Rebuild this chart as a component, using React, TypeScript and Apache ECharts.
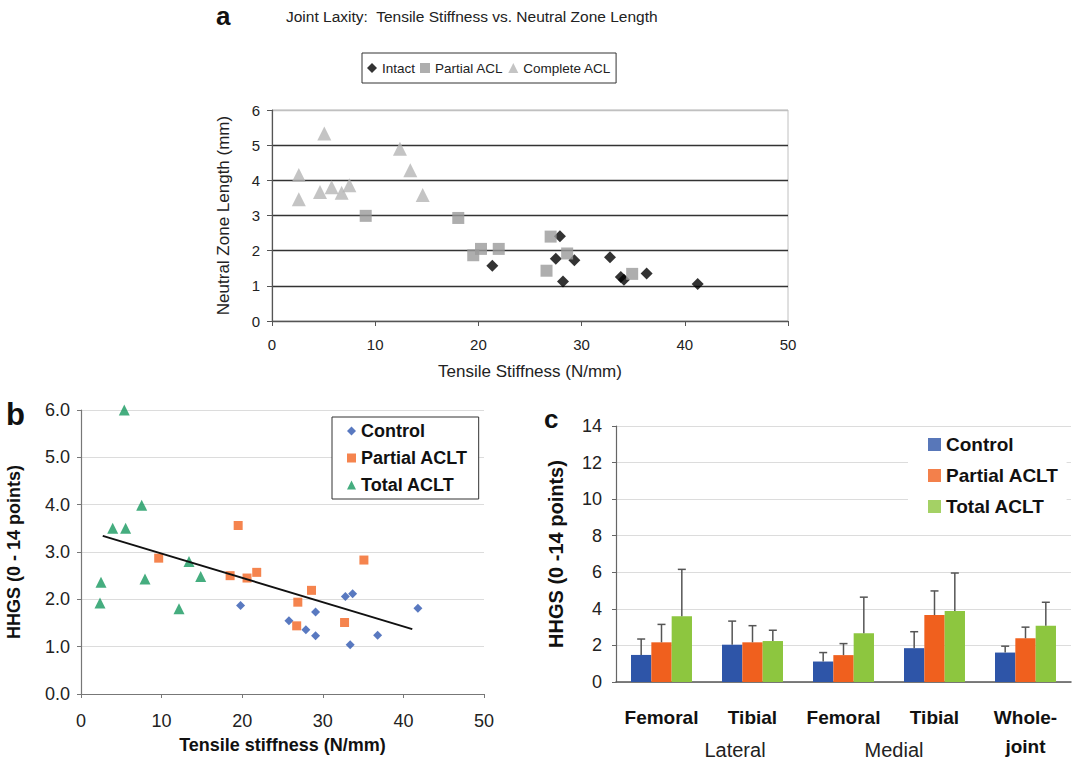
import React, { useEffect, useRef } from "react";
import * as echarts from "echarts";

const FONT = "'Liberation Sans', Arial, Helvetica, sans-serif";

// ---------- Panel a data ----------
const intactX = [21.35, 27.9, 27.5, 29.3, 32.75, 28.2, 33.8, 34.1, 36.3, 41.25];
const intactY = [1.57, 2.41, 1.77, 1.73, 1.81, 1.12, 1.25, 1.17, 1.35, 1.05];
const partialAclX = [9.08, 18.05, 19.5, 20.25, 21.97, 27.0, 28.6, 26.6, 34.9];
const partialAclY = [2.99, 2.93, 1.87, 2.05, 2.05, 2.4, 1.92, 1.43, 1.34];
const completeAclX = [2.6, 2.6, 5.07, 4.65, 5.78, 6.75, 7.5, 12.4, 13.4, 14.6];
const completeAclY = [4.15, 3.46, 5.33, 3.67, 3.8, 3.65, 3.86, 4.9, 4.29, 3.58];

// ---------- Panel b data ----------
const controlX = [19.8, 25.8, 29.1, 27.9, 29.1, 32.8, 33.7, 33.4, 36.8, 41.8];
const controlY = [1.87, 1.55, 1.73, 1.36, 1.23, 2.06, 2.12, 1.04, 1.24, 1.81];
const partialAcltX = [9.64, 19.5, 18.5, 20.6, 21.8, 28.6, 26.9, 26.76, 32.7, 35.1];
const partialAcltY = [2.87, 3.56, 2.5, 2.45, 2.57, 2.19, 1.94, 1.44, 1.51, 2.83];
const totalAcltX = [5.37, 3.93, 5.54, 7.53, 2.48, 2.36, 7.94, 13.4, 14.85, 12.16];
const totalAcltY = [6.0, 3.5, 3.5, 3.99, 2.36, 1.92, 2.43, 2.8, 2.48, 1.8];
const trendX = [2.7, 41.1];
const trendY = [3.34, 1.37];

// ---------- Panel c data ----------
const cCategories = ["Femoral", "Tibial", "Femoral", "Tibial", "Whole-\njoint"];
const cControl = [1.48, 2.04, 1.12, 1.85, 1.61];
const cControlErr = [0.87, 1.29, 0.49, 0.9, 0.35];
const cPartial = [2.17, 2.17, 1.47, 3.66, 2.39];
const cPartialErr = [0.98, 0.91, 0.63, 1.32, 0.61];
const cTotal = [3.59, 2.24, 2.66, 3.88, 3.08];
const cTotalErr = [2.57, 0.59, 1.98, 2.08, 1.28];

const aTicks = ["0", "1", "2", "3", "4", "5", "6"];

const zip = (xs: number[], ys: number[]) => xs.map((x, i) => [x, ys[i]]);

const COL_B = { control: "#2f57b0", partial: "#f26522", total: "#17995f" };
const COL_C = { control: "#2e55a8", partial: "#f0601e", total: "#8dc63f" };

const CAT_GAP = 0.33;

function errSeries(name: string, idx: number, means: number[], errs: number[]) {
  return {
    type: "custom",
    name: name + " err",
    xAxisIndex: 2,
    yAxisIndex: 2,
    z: 5,
    silent: true,
    encode: { x: 0, y: 1 },
    data: means.map((m, i) => [i, m, errs[i]]),
    renderItem: (params: any, api: any) => {
      const i = api.value(0);
      const m = api.value(1);
      const e = api.value(2);
      const base = api.coord([i, m]);
      const tip = api.coord([i, m + e]);
      const band = api.size([1, 0])[0];
      const bw = (band * (1 - CAT_GAP)) / 3;
      const x = base[0] + (idx - 1) * bw;
      const st = { stroke: "#555", lineWidth: 1.5 };
      return {
        type: "group",
        children: [
          { type: "line", shape: { x1: x, y1: base[1], x2: x, y2: tip[1] }, style: st },
          { type: "line", shape: { x1: x - 4, y1: tip[1], x2: x + 4, y2: tip[1] }, style: st },
        ],
      };
    },
  };
}

const option: any = {
  animation: false,
  backgroundColor: "#ffffff",
  textStyle: { fontFamily: FONT },
  title: [
    {
      text: "Joint Laxity:  Tensile Stiffness vs. Neutral Zone Length",
      left: 286,
      top: 8,
      padding: 0,
      textStyle: { fontSize: 15.5, fontWeight: "normal", color: "#222", fontFamily: FONT },
    },
  ],
  graphic: [
    { type: "text", x: 216, y: 16, style: { text: "a", fill: "#111", font: `bold 26px ${FONT}`, verticalAlign: "middle" } },
    { type: "text", x: 6, y: 414, style: { text: "b", fill: "#111", font: `bold 31px ${FONT}`, verticalAlign: "middle" } },
    { type: "text", x: 544, y: 419, style: { text: "c", fill: "#111", font: `bold 26px ${FONT}`, verticalAlign: "middle" } },
    { type: "text", x: 735, y: 750, style: { text: "Lateral", fill: "#222", font: `20px ${FONT}`, align: "center", verticalAlign: "middle" } },
    { type: "text", x: 894, y: 750, style: { text: "Medial", fill: "#222", font: `20px ${FONT}`, align: "center", verticalAlign: "middle" } },
  ],
  legend: [
    {
      left: 362,
      top: 53,
      orient: "horizontal",
      padding: [8, 5],
      itemGap: 5,
      itemWidth: 10,
      itemHeight: 10,
      borderColor: "#333",
      borderWidth: 1,
      selectedMode: false,
      textStyle: { fontSize: 13.5, color: "#222", fontFamily: FONT },
      data: [
        { name: "Intact", icon: "diamond", itemStyle: { color: "#000" } },
        { name: "Partial ACL", icon: "rect", itemStyle: { color: "#9a9a9a" } },
        { name: "Complete ACL", icon: "triangle", itemStyle: { color: "#b5b5b5" } },
      ],
    },
    {
      left: 332,
      top: 417,
      orient: "vertical",
      padding: [5, 11, 5, 15],
      itemGap: 9,
      itemWidth: 9,
      itemHeight: 9,
      borderColor: "#333",
      borderWidth: 1,
      backgroundColor: "#fff",
      selectedMode: false,
      textStyle: { fontSize: 18, fontWeight: "bold", color: "#111", fontFamily: FONT },
      data: [
        { name: "Control", icon: "diamond", itemStyle: { color: COL_B.control } },
        { name: "Partial ACLT", icon: "rect", itemStyle: { color: COL_B.partial } },
        { name: "Total ACLT", icon: "triangle", itemStyle: { color: COL_B.total } },
      ],
    },
    {
      left: 908,
      top: 432,
      orient: "vertical",
      padding: [3, 8, 8, 20],
      itemGap: 12,
      itemWidth: 13,
      itemHeight: 13,
      backgroundColor: "#fff",
      selectedMode: false,
      textStyle: { fontSize: 19, fontWeight: "bold", color: "#111", fontFamily: FONT },
      data: [
        { name: "Control", icon: "rect", itemStyle: { color: COL_C.control } },
        { name: "Partial ACLT", icon: "rect", itemStyle: { color: COL_C.partial } },
        { name: "Total ACLT", icon: "rect", itemStyle: { color: COL_C.total } },
      ],
    },
  ],
  grid: [
    { left: 272, top: 110, width: 516, height: 211, show: true, borderColor: "#c0c0c0", borderWidth: 1, backgroundColor: "transparent" },
    { left: 81, top: 410, width: 403, height: 284 },
    { left: 616, top: 426, width: 455, height: 257 },
  ],
  xAxis: [
    {
      gridIndex: 0,
      type: "value",
      min: 0,
      max: 50,
      interval: 10,
      name: "Tensile Stiffness (N/mm)",
      nameLocation: "middle",
      nameGap: 42,
      nameTextStyle: { fontSize: 17, color: "#222" },
      axisLine: { show: true, lineStyle: { color: "#555", width: 1.2 } },
      axisTick: { show: true, length: 5, lineStyle: { color: "#555" } },
      axisLabel: { fontSize: 15, color: "#222", margin: 16 },
      splitLine: { show: false },
    },
    {
      gridIndex: 1,
      type: "value",
      min: 0,
      max: 50,
      interval: 10,
      name: "Tensile stiffness (N/mm)",
      nameLocation: "middle",
      nameGap: 42,
      nameTextStyle: { fontSize: 18, fontWeight: "bold", color: "#111" },
      axisLine: { show: true, lineStyle: { color: "#777", width: 1.2 } },
      axisTick: { show: true, length: 4, lineStyle: { color: "#777" } },
      axisLabel: { fontSize: 18, color: "#222", margin: 18 },
      splitLine: { show: false },
    },
    {
      gridIndex: 2,
      type: "category",
      data: cCategories,
      axisLine: { show: true, lineStyle: { color: "#555", width: 1.5 } },
      axisTick: { show: false },
      axisLabel: { fontSize: 19, fontWeight: "bold", color: "#111", margin: 21, lineHeight: 29, interval: 0 },
      splitLine: { show: false },
    },
  ],
  yAxis: [
    {
      gridIndex: 0,
      type: "value",
      min: 0,
      max: 6,
      interval: 1,
      name: "Neutral Zone Length (mm)",
      nameLocation: "middle",
      nameGap: 40,
      nameTextStyle: { fontSize: 17, color: "#222" },
      axisLine: { show: true, lineStyle: { color: "#555", width: 1.2 } },
      axisTick: { show: true, length: 5, lineStyle: { color: "#555" } },
      axisLabel: { fontSize: 15, color: "#222", margin: 12, formatter: (v: number) => aTicks[Math.round(v)] },
      splitLine: { show: true, lineStyle: { color: ["#555", "#333", "#333", "#333", "#333", "#333", "#c0c0c0"], width: 1.3 } },
    },
    {
      gridIndex: 1,
      type: "value",
      min: 0,
      max: 6,
      interval: 1,
      name: "HHGS (0 - 14 points)",
      nameLocation: "middle",
      nameGap: 58,
      nameTextStyle: { fontSize: 18, fontWeight: "bold", color: "#111" },
      axisLine: { show: true, lineStyle: { color: "#777", width: 1.2 } },
      axisTick: { show: true, length: 4, lineStyle: { color: "#777" } },
      axisLabel: { fontSize: 18, color: "#222", margin: 11, formatter: (v: number) => v.toFixed(1) },
      splitLine: { show: true, lineStyle: { color: "#dcdcdc", width: 1 } },
    },
    {
      gridIndex: 2,
      type: "value",
      min: 0,
      max: 14,
      interval: 2,
      name: "HHGS (0 -14 points)",
      nameLocation: "middle",
      nameGap: 50,
      nameTextStyle: { fontSize: 20, fontWeight: "bold", color: "#111" },
      axisLine: { show: true, lineStyle: { color: "#666", width: 1.2 } },
      axisTick: { show: true, length: 4, lineStyle: { color: "#666" } },
      axisLabel: { fontSize: 18, color: "#222", margin: 14 },
      splitLine: { show: true, lineStyle: { color: "#dcdcdc", width: 1 } },
    },
  ],
  series: [
    // panel a
    { type: "scatter", name: "Intact", xAxisIndex: 0, yAxisIndex: 0, symbol: "diamond", symbolSize: 12, itemStyle: { color: "#000" }, data: zip(intactX, intactY) },
    { type: "scatter", name: "Partial ACL", xAxisIndex: 0, yAxisIndex: 0, symbol: "rect", symbolSize: 12, itemStyle: { color: "#9a9a9a" }, data: zip(partialAclX, partialAclY) },
    { type: "scatter", name: "Complete ACL", xAxisIndex: 0, yAxisIndex: 0, symbol: "triangle", symbolSize: 14, itemStyle: { color: "#b5b5b5" }, data: zip(completeAclX, completeAclY) },
    // panel b
    { type: "scatter", name: "Control", xAxisIndex: 1, yAxisIndex: 1, symbol: "diamond", symbolSize: 9, itemStyle: { color: COL_B.control }, data: zip(controlX, controlY) },
    { type: "scatter", name: "Partial ACLT", xAxisIndex: 1, yAxisIndex: 1, symbol: "rect", symbolSize: 9, itemStyle: { color: COL_B.partial }, data: zip(partialAcltX, partialAcltY) },
    { type: "scatter", name: "Total ACLT", xAxisIndex: 1, yAxisIndex: 1, symbol: "triangle", symbolSize: 11, itemStyle: { color: COL_B.total }, data: zip(totalAcltX, totalAcltY) },
    { type: "line", name: "Trend", xAxisIndex: 1, yAxisIndex: 1, showSymbol: false, symbol: "none", lineStyle: { color: "#111", width: 2 }, data: zip(trendX, trendY), z: 4 },
    // panel c
    { type: "bar", name: "Control", xAxisIndex: 2, yAxisIndex: 2, barGap: "0%", barCategoryGap: "33%", itemStyle: { color: COL_C.control }, data: cControl },
    { type: "bar", name: "Partial ACLT", xAxisIndex: 2, yAxisIndex: 2, barGap: "0%", barCategoryGap: "33%", itemStyle: { color: COL_C.partial }, data: cPartial },
    { type: "bar", name: "Total ACLT", xAxisIndex: 2, yAxisIndex: 2, barGap: "0%", barCategoryGap: "33%", itemStyle: { color: COL_C.total }, data: cTotal },
    errSeries("Control", 0, cControl, cControlErr),
    errSeries("Partial ACLT", 1, cPartial, cPartialErr),
    errSeries("Total ACLT", 2, cTotal, cTotalErr),
  ],
};

export default function App() {
  const ref = useRef<HTMLDivElement>(null);
  useEffect(() => {
    const chart = echarts.init(ref.current!, null, { renderer: "svg" });
    chart.setOption(option);
    return () => chart.dispose();
  }, []);
  return (
    <div
      ref={ref}
      style={{ position: "absolute", left: 0, top: 0, width: 1073, height: 761, background: "#fff" }}
    />
  );
}
